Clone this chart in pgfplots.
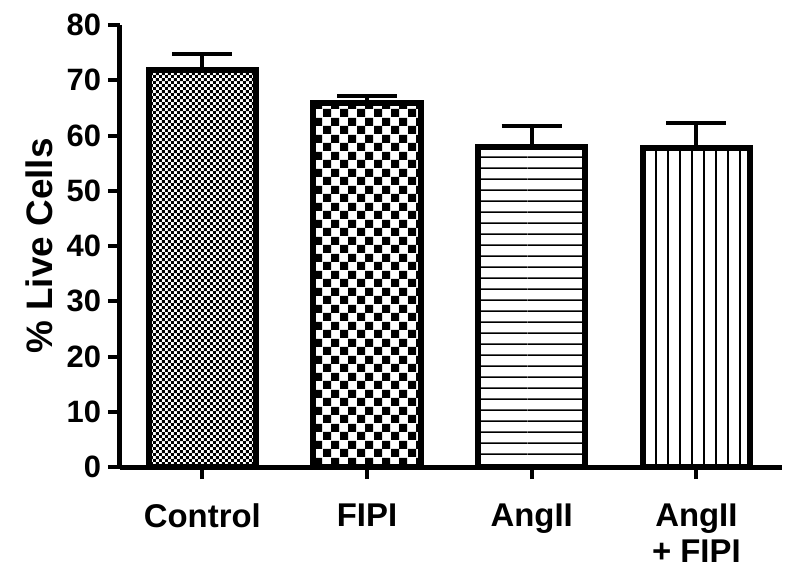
\documentclass[border=0pt]{standalone}
\usepackage{fontspec}
\setmainfont{Liberation Sans}
\usepackage{pgfplots}
\pgfplotsset{compat=1.18}
\usetikzlibrary{patterns}

% fill patterns of the four bars
\pgfdeclarepatternformonly{finecheck}{\pgfpointorigin}{\pgfqpoint{3.2bp}{3.2bp}}{\pgfqpoint{3.2bp}{3.2bp}}{
  \pgfpathrectangle{\pgfpointorigin}{\pgfqpoint{1.6bp}{1.6bp}}
  \pgfpathrectangle{\pgfqpoint{1.6bp}{1.6bp}}{\pgfqpoint{1.6bp}{1.6bp}}
  \pgfusepath{fill}}
\pgfdeclarepatternformonly{coarsecheck}{\pgfpointorigin}{\pgfqpoint{8.5bp}{8.5bp}}{\pgfqpoint{8.5bp}{8.5bp}}{
  \pgfpathrectangle{\pgfpointorigin}{\pgfqpoint{4.25bp}{4.25bp}}
  \pgfpathrectangle{\pgfqpoint{4.25bp}{4.25bp}}{\pgfqpoint{4.25bp}{4.25bp}}
  \pgfusepath{fill}}
\pgfdeclarepatternformonly{hlines}{\pgfpointorigin}{\pgfqpoint{66bp}{5.5bp}}{\pgfqpoint{66bp}{5.5bp}}{
  \pgfpathrectangle{\pgfpointorigin}{\pgfqpoint{66bp}{0.9bp}}
  \pgfusepath{fill}}
\pgfdeclarepatternformonly{vlines}{\pgfpointorigin}{\pgfqpoint{5.85bp}{70.2bp}}{\pgfqpoint{5.85bp}{70.2bp}}{
  \pgfpathrectangle{\pgfpointorigin}{\pgfqpoint{0.9bp}{70.2bp}}
  \pgfusepath{fill}}

\pgfplotsset{
  bars/.style={ybar, bar width=0.65, draw=black, line width=3bp,
    error bars/y dir=plus, error bars/y explicit,
    error bars/error bar style={line width=2bp, black, solid},
    error bars/error mark options={rotate=90, line width=2bp, mark size=15bp, black}},
}

\begin{document}
\begin{tikzpicture}
\begin{axis}[
  scale only axis, width=331bp, height=221bp,
  axis lines=left,
  axis line style={line width=2.5bp, -},
  xmin=-0.5, xmax=3.52, ymin=0, ymax=80,
  xtick={0,1,2,3},
  xticklabels={Control, FIPI, AngII, AngII\\+ FIPI},
  ytick={0,10,...,80},
  tick align=outside,
  major tick length=6bp,
  tick style={line width=2bp, black},
  xticklabel style={font=\fontsize{16.5}{18}\selectfont\bfseries, align=center, anchor=north, yshift=-9bp},
  yticklabel style={font=\fontsize{15.5}{17}\selectfont\bfseries},
  /pgf/number format/assume math mode=true,
  ylabel={\% Live Cells},
  ylabel style={font=\fontsize{18.5}{20}\selectfont\bfseries},
  clip=false,
]
\addplot[bars, pattern=finecheck] coordinates {(0,71.8) +- (0,3.0)};
\addplot[bars, pattern=coarsecheck] coordinates {(1,65.8) +- (0,1.4)};
\addplot[bars, pattern=hlines] coordinates {(2,57.9) +- (0,3.9)};
\addplot[bars, pattern=vlines] coordinates {(3,57.8) +- (0,4.4)};
\coordinate (ll) at (rel axis cs:0,0);
\coordinate (ur) at (rel axis cs:1,1);
\end{axis}
\pgfresetboundingbox
\path[use as bounding box] ([shift={(-60bp,-54.5bp)}]ll) rectangle ([shift={(9bp,12.5bp)}]ur);
\end{tikzpicture}
\end{document}
